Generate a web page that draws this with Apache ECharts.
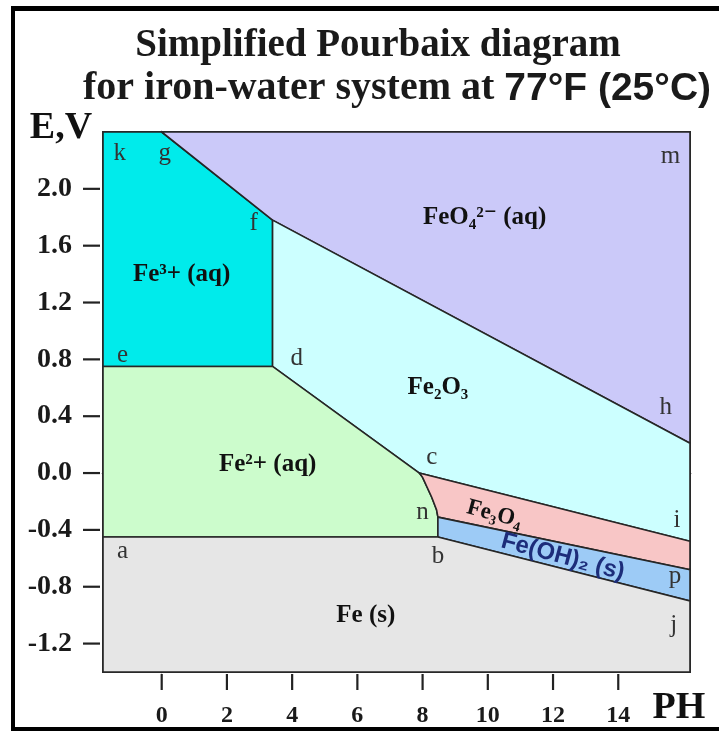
<!DOCTYPE html>
<html><head><meta charset="utf-8">
<script src="https://cdn.jsdelivr.net/npm/echarts@6/dist/echarts.min.js"></script>
<style>html,body{margin:0;padding:0;background:#fff}#c{width:719px;height:731px}</style>
</head><body><div id="c"></div>
<script>
// ---- axis data ----
const phTicks = [0, 2, 4, 6, 8, 10, 12, 14];
const eTicks = [-1.2, -0.8, -0.4, 0.0, 0.4, 0.8, 1.2, 1.6, 2.0];
const phRange = [-1.8, 16.2];
const eRange = [-1.4, 2.4];

// ---- region boundaries [pH, E] ----
const fe3Region   = [[-1.8, 2.4], [0.0, 2.4], [3.4, 1.78], [3.4, 0.75], [-1.8, 0.75]];
const feO4Region  = [[0.0, 2.4], [16.2, 2.4], [16.2, 0.21], [3.4, 1.78]];
const fe2O3Region = [[3.4, 1.78], [16.2, 0.21], [16.2, -0.48], [7.9, 0.0], [3.4, 0.75]];
const fe2Region   = [[-1.8, 0.75], [3.4, 0.75], [7.9, 0.0], [8.0, -0.03], [8.28, -0.17], [8.43, -0.26], [8.47, -0.31], [8.47, -0.45], [-1.8, -0.45]];
const fe3O4Region = [[7.9, 0.0], [16.2, -0.48], [16.2, -0.68], [8.47, -0.31], [8.43, -0.26], [8.28, -0.17], [8.0, -0.03]];
const feOH2Region = [[8.47, -0.31], [16.2, -0.68], [16.2, -0.9], [8.47, -0.45]];
const feSRegion   = [[-1.8, -0.45], [8.47, -0.45], [16.2, -0.9], [16.2, -1.4], [-1.8, -1.4]];

// ---- labels ----
const regionLabels = [
  {name: 'Fe³+ (aq)', value: [0.61, 1.40]},
  {name: 'Fe²+ (aq)', value: [3.25, 0.06]},
  {name: 'FeO₄²⁻ (aq)', value: [9.9, 1.80]},
  {name: 'Fe₂O₃', value: [8.47, 0.60]},
  {name: 'Fe (s)', value: [6.26, -1.0]}
];
const fe3O4Label = [{name: 'Fe₃O₄', value: [10.2, -0.29]}];
const feOH2Label = [{name: 'Fe(OH)₂ (s)', value: [12.3, -0.59]}];
const pointLabels = [
  {name: 'k', value: [-1.29, 2.25]}, {name: 'g', value: [0.09, 2.25]},
  {name: 'f', value: [2.82, 1.76]},  {name: 'e', value: [-1.2, 0.83]},
  {name: 'd', value: [4.14, 0.81]},  {name: 'a', value: [-1.2, -0.55]},
  {name: 'c', value: [8.28, 0.11]},  {name: 'n', value: [8.0, -0.28]},
  {name: 'b', value: [8.47, -0.59]}, {name: 'i', value: [15.8, -0.33]},
  {name: 'p', value: [15.74, -0.73]},{name: 'j', value: [15.7, -1.07]},
  {name: 'h', value: [15.46, 0.46]}, {name: 'm', value: [15.6, 2.23]}
];

const SERIF = '"Liberation Serif","DejaVu Serif",serif';
const SANS = '"Liberation Sans","DejaVu Sans",sans-serif';

function region(name, pts, color) {
  return {
    type: 'custom', name: name, silent: true, z: 2,
    data: pts,
    renderItem: function (params, api) {
      if (params.dataIndex !== 0) return null;
      return {
        type: 'polygon',
        shape: {points: pts.map(function (q) { return api.coord(q); })},
        style: {fill: color, stroke: '#262626', lineWidth: 1.6}
      };
    }
  };
}

// tick marks drawn through the axis scales
function ticks(vals, isX) {
  return {
    type: 'custom', silent: true, z: 6, clip: false,
    data: vals,
    renderItem: function (params, api) {
      const v = api.value(0);
      const p = isX ? api.coord([v, eRange[0]]) : api.coord([phRange[0], v]);
      const shape = isX
        ? {x1: p[0], y1: p[1] + 2, x2: p[0], y2: p[1] + 18}
        : {x1: p[0] - 3, y1: p[1], x2: p[0] - 20, y2: p[1]};
      return {type: 'line', shape: shape, style: {stroke: '#222', lineWidth: 2.2}};
    }
  };
}

function textLayer(data, label) {
  return {type: 'scatter', symbolSize: 0, z: 5, silent: true, data: data,
    itemStyle: {opacity: 1}, label: Object.assign({show: true, position: 'inside', formatter: '{b}', opacity: 1}, label)};
}

const chart = echarts.init(document.getElementById('c'));
chart.setOption({
  animation: false,
  backgroundColor: '#fff',
  title: [
    {text: 'Simplified Pourbaix diagram', left: 373, textAlign: 'center', top: 21,
     textStyle: {fontFamily: SERIF, fontWeight: 'bold', fontSize: 39, color: '#1a1a1a'}},
    {text: '{s|for iron-water system at }{a|77°F (25°C)}', left: 392, textAlign: 'center', top: 64,
     textStyle: {rich: {
       s: {fontFamily: SERIF, fontWeight: 'bold', fontSize: 40, color: '#1a1a1a'},
       a: {fontFamily: SANS, fontWeight: 'bold', fontSize: 39, color: '#1a1a1a'}}}}
  ],
  graphic: [
    {type: 'rect', shape: {x: 11, y: 6, width: 708, height: 5}, style: {fill: '#000'}, z: 100},
    {type: 'rect', shape: {x: 11, y: 6, width: 4, height: 725}, style: {fill: '#000'}, z: 100},
    {type: 'rect', shape: {x: 11, y: 727, width: 708, height: 4}, style: {fill: '#000'}, z: 100},
    {type: 'text', x: 61, y: 128, style: {text: 'E,V', fontFamily: SERIF, fontWeight: 'bold', fontSize: 38, fill: '#111', align: 'center', verticalAlign: 'middle'}},
    {type: 'text', x: 679, y: 708, style: {text: 'PH', fontFamily: SERIF, fontWeight: 'bold', fontSize: 38, fill: '#111', align: 'center', verticalAlign: 'middle'}}
  ],
  grid: {left: 103, top: 132, right: 29, bottom: 59, show: true, borderColor: '#333', borderWidth: 2, backgroundColor: 'transparent'},
  xAxis: {
    type: 'value', min: phRange[0], max: phRange[1],
    axisLine: {show: true, lineStyle: {color: '#222', width: 2.5}},
    axisTick: {show: false},
    axisLabel: {customValues: phTicks, margin: 32, fontFamily: SERIF, fontWeight: 'bold', fontSize: 24, color: '#1a1a1a'},
    splitLine: {show: false}
  },
  yAxis: {
    type: 'value', min: eRange[0], max: eRange[1],
    axisLine: {show: true, lineStyle: {color: '#222', width: 2.5}},
    axisTick: {show: false},
    axisLabel: {customValues: eTicks, margin: 31, fontFamily: SERIF, fontWeight: 'bold', fontSize: 28, color: '#1a1a1a',
      formatter: function (v) { return Number(v).toFixed(1); }},
    splitLine: {show: false}
  },
  series: [
    region('Fe3+', fe3Region, '#00ebeb'),
    region('FeO4', feO4Region, '#cbc9f9'),
    region('Fe2O3', fe2O3Region, '#ccffff'),
    region('Fe2+', fe2Region, '#ccfccc'),
    region('Fe3O4', fe3O4Region, '#f8c6c6'),
    region('FeOH2', feOH2Region, '#9dcbf6'),
    region('Fe', feSRegion, '#e6e6e6'),
    ticks(phTicks, true),
    ticks(eTicks, false),
    textLayer(regionLabels, {fontFamily: SERIF, fontWeight: 'bold', fontSize: 25, color: '#111'}),
    textLayer(fe3O4Label, {rotate: -15, fontFamily: SERIF, fontWeight: 'bold', fontSize: 23, color: '#111'}),
    textLayer(feOH2Label, {rotate: -15, fontFamily: SANS, fontWeight: 'bold', fontSize: 24, color: '#1d2d7a'}),
    textLayer(pointLabels, {fontFamily: SERIF, fontSize: 25, color: '#333'})
  ]
});
</script></body></html>
